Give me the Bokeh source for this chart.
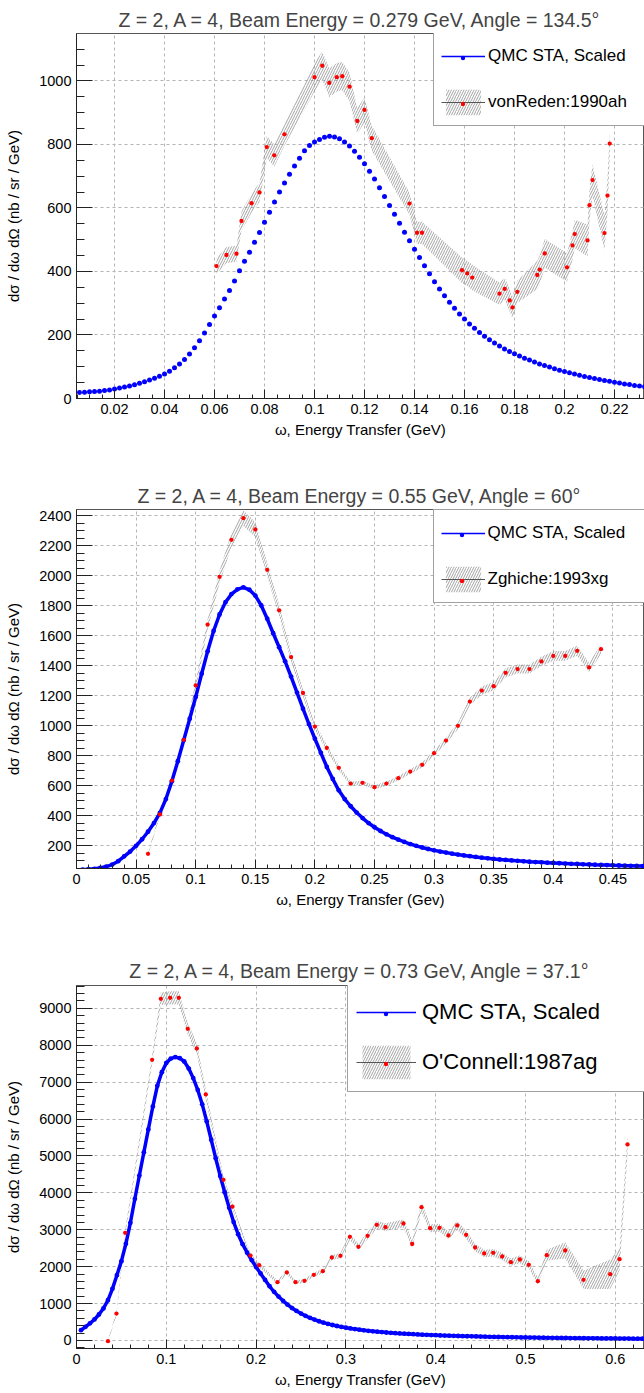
import numpy as np
from bokeh.plotting import figure
from bokeh.models import Range1d, FixedTicker, CustomJSTickFormatter, Legend, LegendItem
from bokeh.layouts import column
from bokeh.embed import file_html
from bokeh.resources import INLINE

FONT = "Liberation Sans"
BLUE = "#0000ff"
RED = "#ff0000"
Y_LABEL = "dσ / dω dΩ (nb / sr / GeV)"
QMC_LABEL = "QMC STA, Scaled"
NAN = float("nan")

# ---------------- Panel 1 : E = 0.279 GeV, 134.5 deg ----------------
title_1 = "Z = 2, A = 4, Beam Energy = 0.279 GeV, Angle = 134.5°"
xlabel_1 = "ω, Energy Transfer (GeV)"
qmc1_start, qmc1_step = 0.006, 0.002
qmc1_xs = [19, 20, 21, 22, 23, 25, 27, 30, 33, 36, 39, 43, 48, 53, 58, 64, 70, 77,
           86, 97, 109, 123, 140, 160, 182, 206, 233, 260, 286, 313, 340, 370, 402,
           432, 461, 492, 523, 555, 587, 619, 650, 679, 706, 732, 757, 780, 797, 808,
           816, 823, 826, 824, 818, 808, 795, 779, 760, 739, 716, 691, 664, 636, 608,
           580, 552, 524, 497, 470, 444, 418, 393, 368, 345, 324, 303, 284, 266, 250,
           235, 221, 208, 196, 185, 175, 165, 156, 148, 141, 134, 127, 121, 115, 109,
           104, 99, 94, 89, 85, 81, 77, 73, 69, 66, 63, 60, 57, 54, 51, 49, 46, 44,
           41, 39, 37]
data1_label = "vonReden:1990ah"
data1_omega = [0.0608, 0.0648, 0.0688, 0.0708, 0.0748, 0.0780, 0.0809, 0.0839, 0.0880,
               0.1000, 0.1031, 0.1059, 0.1089, 0.1111, 0.1140, 0.1171, 0.1200, 0.1229,
               0.1380, 0.1410, 0.1430, 0.1590, 0.1611, 0.1631, 0.1740, 0.1761, 0.1781,
               0.1792, 0.1811, 0.1891, 0.1901, 0.1921, 0.2010, 0.2032, 0.2041, 0.2092,
               0.2100, 0.2112, 0.2160, 0.2172, 0.2181]
data1_xs = [417, 452, 456, 559, 615, 649, 792, 766, 832, 1012, 1048, 994, 1012, 1015,
            982, 874, 909, 820, 614, 522, 522, 404, 394, 381, 330, 345, 309, 287, 336,
            389, 406, 457, 413, 482, 518, 498, 609, 688, 521, 639, 803]
data1_err = [25, 25, 25, 30, 30, 30, 35, 35, 35, 45, 45, 45, 45, 45, 45, 40, 40, 40,
             35, 35, 35, 40, 40, 40, 35, 35, 35, 35, 35, 45, 45, 45, 45, 45, 45, 50,
             50, 50, 55, 55, 40]
x1_ticks = [0.02, 0.04, 0.06, 0.08, 0.10, 0.12, 0.14, 0.16, 0.18, 0.20, 0.22]
x1_labels = ["0.02", "0.04", "0.06", "0.08", "0.1", "0.12", "0.14", "0.16", "0.18", "0.2", "0.22"]
y1_ticks = [0, 200, 400, 600, 800, 1000]
y1_labels = ["0", "200", "400", "600", "800", "1000"]

# ---------------- Panel 2 : E = 0.55 GeV, 60 deg ----------------
title_2 = "Z = 2, A = 4, Beam Energy = 0.55 GeV, Angle = 60°"
xlabel_2 = "ω, Energy Transfer (Gev)"
qmc2_start, qmc2_step = 0.005, 0.005
qmc2_xs = [40, 42, 45, 51, 60, 73, 96, 128, 160, 198, 242, 292, 350, 418, 510, 628,
           762, 903, 1045, 1190, 1345, 1495, 1630, 1740, 1822, 1876, 1908, 1921, 1905,
           1866, 1800, 1712, 1615, 1522, 1428, 1326, 1220, 1112, 1010, 912, 818, 724,
           644, 568, 510, 462, 420, 383, 350, 322, 297, 275, 256, 239, 224, 210, 198,
           187, 177, 168, 160, 153, 146, 140, 134, 129, 124, 119, 115, 111, 107, 104,
           101, 98, 95, 92, 90, 88, 86, 84, 82, 80, 78, 77, 75, 74, 72, 71, 70, 68,
           67, 66, 65, 64, 63]
data2_label = "Zghiche:1993xg"
data2_omega = [0.06, 0.07, 0.08, 0.09, 0.10, 0.11, 0.12, 0.13, 0.14, 0.15, 0.16, 0.17,
               0.18, 0.19, 0.20, 0.21, 0.22, 0.23, 0.24, 0.25, 0.26, 0.27, 0.28, 0.29,
               0.30, 0.31, 0.32, 0.33, 0.34, 0.35, 0.36, 0.37, 0.38, 0.39, 0.40, 0.41,
               0.42, 0.43, 0.44]
data2_xs = [145, 407, 633, 905, 1267, 1673, 1991, 2238, 2382, 2307, 2038, 1768, 1456,
            1217, 993, 851, 718, 613, 618, 589, 613, 649, 693, 738, 816, 900, 998, 1160,
            1233, 1262, 1351, 1376, 1376, 1427, 1464, 1464, 1498, 1387, 1509]
data2_err = [10, 12, 15, 20, 28, 35, 42, 48, 52, 50, 45, 38, 32, 27, 22, 19, 16, 14,
             14, 13, 14, 15, 16, 17, 18, 20, 22, 25, 27, 28, 30, 30, 30, 31, 32, 32,
             33, 31, 33]
x2_ticks = [0.0, 0.05, 0.10, 0.15, 0.20, 0.25, 0.30, 0.35, 0.40, 0.45]
x2_labels = ["0", "0.05", "0.1", "0.15", "0.2", "0.25", "0.3", "0.35", "0.4", "0.45"]
y2_ticks = [200, 400, 600, 800, 1000, 1200, 1400, 1600, 1800, 2000, 2200, 2400]
y2_labels = [str(v) for v in y2_ticks]

# ---------------- Panel 3 : E = 0.73 GeV, 37.1 deg ----------------
title_3 = "Z = 2, A = 4, Beam Energy = 0.73 GeV, Angle = 37.1°"
xlabel_3 = "ω, Energy Transfer (GeV)"
qmc3_start, qmc3_step = 0.005, 0.005
qmc3_xs = [280, 370, 465, 570, 705, 870, 1090, 1400, 1770, 2150, 2620, 3190, 3840,
           4470, 5100, 5720, 6340, 6900, 7270, 7520, 7640, 7680, 7650, 7560, 7370, 7110,
           6790, 6400, 5940, 5440, 4940, 4460, 4020, 3600, 3210, 2880, 2610, 2380, 2180,
           1990, 1815, 1640, 1470, 1320, 1190, 1075, 970, 880, 800, 730, 668, 614, 566,
           522, 484, 450, 420, 393, 369, 347, 327, 309, 292, 277, 263, 250, 238, 227,
           217, 208, 199, 191, 184, 177, 170, 164, 158, 153, 148, 143, 138, 134, 130,
           126, 122, 118, 115, 112, 109, 106, 103, 100, 97, 95, 92, 90, 88, 86, 84, 82,
           80, 78, 76, 74, 73, 71, 70, 68, 67, 65, 64, 63, 61, 60, 59, 58, 57, 56, 55,
           54, 53, 52, 51, 50, 49, 48]
data3_label = "O'Connell:1987ag"
data3_omega = [0.0350, 0.0445, 0.0542, 0.0842, 0.0939, 0.1043, 0.1139, 0.1239, 0.1340,
               0.1440, 0.1637, 0.1737, 0.1938, 0.2034, 0.2238, 0.2342, 0.2439, 0.2539,
               0.2643, 0.2743, 0.2843, 0.2940, 0.3044, 0.3140, 0.3241, 0.3344, 0.3441,
               0.3641, 0.3738, 0.3842, 0.3938, 0.4042, 0.4143, 0.4239, 0.4339, 0.4439,
               0.4540, 0.4640, 0.4740, 0.4837, 0.4937, 0.5037, 0.5137, 0.5237, 0.5442,
               0.5646, 0.5943, 0.6047, 0.6136]
data3_xs = [-18, 730, 2918, 7606, 9260, 9287, 9287, 8447, 7913, 6667, 4354, 3627, 2300,
            2042, 1581, 1843, 1581, 1617, 1780, 1878, 2249, 2295, 2810, 2539, 2837, 3135,
            3071, 3171, 2615, 3613, 3043, 3054, 2846, 3117, 2864, 2520, 2358, 2377, 2276,
            2123, 2195, 2051, 1607, 2312, 2439, 1645, 1797, 2203, 5312]
data3_err = [30, 50, 80, 120, 170, 180, 180, 160, 150, 130, 90, 80, 60, 55, 50, 55, 50,
             50, 55, 60, 70, 75, 90, 85, 95, 105, 105, 110, 100, 130, 110, 110, 105, 120,
             110, 100, 100, 100, 100, 100, 105, 100, 90, 150, 220, 250, 400, 300, 250]
x3_ticks = [0.0, 0.1, 0.2, 0.3, 0.4, 0.5, 0.6]
x3_labels = ["0", "0.1", "0.2", "0.3", "0.4", "0.5", "0.6"]
y3_ticks = [0, 1000, 2000, 3000, 4000, 5000, 6000, 7000, 8000, 9000]
y3_labels = [str(v) for v in y3_ticks]

FMT_CODE = """
for (let i = 0; i < tv.length; i++) {
  if (Math.abs(tv[i] - tick) < 1e-7) { return tl[i]; }
}
return "";
"""


def make_panel(title, height, top, bottom, xr, yr, xt, xl, xminor, yt, yl, yminor,
               xlabel, q_start, q_step, q_vals, q_line, q_size, d_om, d_v, d_e, d_label,
               leg_loc, leg, title_standoff=6, tick_font="14.5px"):
    p = figure(width=644, height=height, x_range=Range1d(*xr), y_range=Range1d(*yr),
               output_backend="svg", toolbar_location=None, title=title,
               min_border_left=76, min_border_right=0, min_border_top=top,
               min_border_bottom=bottom)
    p.title.text_font = FONT
    p.title.text_font_size = "19.5px"
    p.title.text_font_style = "normal"
    p.title.align = "center"
    p.title.standoff = title_standoff
    p.outline_line_color = "#555555"
    p.outline_line_width = 1
    p.background_fill_color = "white"
    p.border_fill_color = "white"

    xtick = FixedTicker(ticks=xt, minor_ticks=xminor)
    ytick = FixedTicker(ticks=yt, minor_ticks=yminor)
    p.xaxis.ticker = xtick
    p.yaxis.ticker = ytick
    p.xgrid.ticker = xtick
    p.ygrid.ticker = ytick
    p.xaxis.formatter = CustomJSTickFormatter(args=dict(tv=xt, tl=xl), code=FMT_CODE)
    p.yaxis.formatter = CustomJSTickFormatter(args=dict(tv=yt, tl=yl), code=FMT_CODE)
    p.xaxis.axis_label = xlabel
    p.yaxis.axis_label = Y_LABEL
    for ax in (p.xaxis[0], p.yaxis[0]):
        ax.major_tick_out = 0
        ax.minor_tick_out = 0
        ax.axis_line_color = "#222222"
        ax.major_tick_line_color = "#222222"
        ax.minor_tick_line_color = "#222222"
        ax.major_label_text_font = FONT
        ax.major_label_text_font_size = tick_font
        ax.major_label_text_color = "#000000"
        ax.axis_label_text_font = FONT
        ax.axis_label_text_font_size = "15px"
        ax.axis_label_text_font_style = "normal"
        ax.axis_label_text_color = "#000000"
    p.xaxis.major_tick_in = 9
    p.xaxis.minor_tick_in = 4
    p.yaxis.major_tick_in = 16
    p.yaxis.minor_tick_in = 8
    p.xaxis.major_label_standoff = 5
    p.xaxis.axis_label_standoff = 4
    p.yaxis.major_label_standoff = 5
    p.yaxis.axis_label_standoff = 14
    p.grid.grid_line_color = "#b4b4b4"
    p.grid.grid_line_dash = "3 3"
    p.grid.grid_line_width = 1

    # error band (hatched)
    upper = [v + e for v, e in zip(d_v, d_e)]
    lower = [v - e for v, e in zip(d_v, d_e)]
    bx = list(d_om) + list(d_om)[::-1]
    by = upper + lower[::-1]
    band = p.patch(bx, by, fill_color=None, line_color=None, hatch_pattern="/",
                   hatch_color="#8c8c8c", hatch_scale=5, hatch_weight=0.8)

    # theory curve
    q_om = [round(q_start + i * q_step, 4) for i in range(len(q_vals))]
    if q_line:
        p.line(q_om, q_vals, line_color=BLUE, line_width=3.5)
    blue_sc = p.scatter(q_om, q_vals, size=q_size, fill_color=BLUE, line_color=None,
                        marker="circle")
    red_sc = p.scatter(d_om, d_v, size=4.3, fill_color=RED, line_color=None,
                       marker="circle")

    # legend proxies (no visible data)
    leg_blue_line = p.line([NAN], [NAN], line_color=BLUE, line_width=1.3)
    leg_data_line = p.line([NAN], [NAN], line_color="#555555", line_width=1)

    pA, gA, sA, gwA = leg["padding"], leg["gh"], leg["spacing"], leg["gw"]
    legA = Legend(items=[LegendItem(label=QMC_LABEL, renderers=[leg_blue_line]),
                         LegendItem(label=d_label, renderers=[band, leg_data_line])],
                  location=leg_loc, orientation="vertical")
    legA.padding = pA
    legA.spacing = sA
    legA.margin = 0
    legA.glyph_width = gwA
    legA.glyph_height = gA
    legA.label_standoff = leg["standoff"]
    legA.label_width = leg["lw"]
    legA.label_height = gA
    legA.label_text_font = FONT
    legA.label_text_font_size = leg["fs"]
    legA.label_text_color = "#000000"
    legA.border_line_color = "#444444"
    legA.border_line_width = 1
    legA.background_fill_color = "white"
    legA.background_fill_alpha = 1.0
    p.add_layout(legA)

    # small markers centred on the legend glyphs
    gB = 11
    sB = gA + sA - gB
    HA = 2 * pA + 2 * gA + sA
    HB = 2 * gB + sB
    xB = leg_loc[0] + pA + gwA / 2 - gB / 2
    yB = leg_loc[1] + HA - HB - (pA + gA / 2 - gB / 2)
    legB = Legend(items=[LegendItem(label=" ", renderers=[blue_sc]),
                         LegendItem(label=" ", renderers=[red_sc])],
                  location=(xB, yB), orientation="vertical")
    legB.padding = 0
    legB.spacing = sB
    legB.margin = 0
    legB.glyph_width = gB
    legB.glyph_height = gB
    legB.label_standoff = 0
    legB.label_width = 1
    legB.label_height = gB
    legB.label_text_font_size = "1px"
    legB.border_line_color = None
    legB.background_fill_alpha = 0.0
    p.add_layout(legB)
    return p


p1 = make_panel(title_1, 464, 33, 66, (0.0048, 0.2320), (0, 1149.6),
                x1_ticks, x1_labels, list(np.round(np.arange(0.005, 0.2321, 0.005), 4)),
                y1_ticks, y1_labels, list(np.arange(0, 1150, 50)),
                xlabel_1, qmc1_start, qmc1_step, qmc1_xs, False, 5.0,
                data1_omega, data1_xs, data1_err, data1_label, (357, 272),
                dict(padding=7, spacing=14, gw=44, gh=32, standoff=3, lw=170, fs="17px"),
                title_standoff=5)

p2 = make_panel(title_2, 465, 45, 61, (0.0, 0.4765), (47, 2440),
                x2_ticks, x2_labels, list(np.round(np.arange(0.0, 0.477, 0.01), 4)),
                y2_ticks, y2_labels, list(np.arange(50, 2441, 50)),
                xlabel_2, qmc2_start, qmc2_step, qmc2_xs, True, 4.8,
                data2_omega, data2_xs, data2_err, data2_label, (356.5, 265),
                dict(padding=7, spacing=14, gw=44, gh=32, standoff=3, lw=170, fs="17px"),
                title_standoff=5)

p3 = make_panel(title_3, 464, 56, 45, (0.0, 0.6325), (-217, 9620),
                x3_ticks, x3_labels, list(np.round(np.arange(0.0, 0.633, 0.02), 4)),
                y3_ticks, y3_labels, list(np.arange(-200, 9601, 200)),
                xlabel_3, qmc3_start, qmc3_step, qmc3_xs, True, 4.8,
                data3_omega, data3_xs, data3_err, data3_label, (271, 256),
                dict(padding=8, spacing=8, gw=60, gh=42, standoff=6, lw=230, fs="22px"),
                title_standoff=7)

layout = column(p1, p2, p3, spacing=0)
open("out.html", "w").write(file_html(layout, INLINE, title="QMC STA"))
